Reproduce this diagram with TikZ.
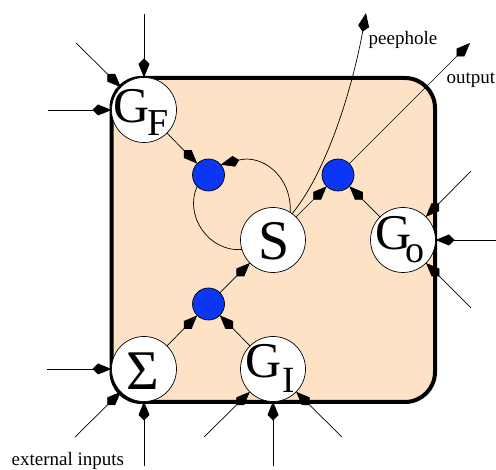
\documentclass[tikz,border=0pt]{standalone}
\usepackage{fontspec}
\setmainfont{Liberation Serif}
\usetikzlibrary{arrows.meta}
\definecolor{cellfill}{HTML}{FDE2C6}
\definecolor{gateblue}{HTML}{0B36F5}
\newcommand{\placed}[4]{\makebox[0pt][l]{\hspace*{#1pt}\smash{\raisebox{-#2pt}{\fontsize{#3}{#3}\selectfont #4}}}}
\newcommand{\nest}[2]{\makebox[0pt][l]{#1}#2}
\tikzset{
  x=1pt,y=-1pt,
  unit/.style={circle,draw=black,fill=white,line width=0.7pt,minimum size=65pt,inner sep=0pt,outer sep=0pt},
  gate/.style={circle,draw=black,fill=gateblue,line width=0.7pt,minimum size=32pt,inner sep=0pt,outer sep=0pt},
  cell/.style={draw=black,fill=cellfill,line width=4pt,rounded corners=30pt,minimum width=323.5pt,minimum height=324pt,inner sep=0pt,outer sep=0pt},
  arr/.style={line width=0.7pt,-{Kite[length=19pt,width=11pt,inset=5.5pt]}},
  lab/.style={font=\fontsize{19}{19}\selectfont,inner sep=0pt,anchor=base west}
}
\begin{document}
\begin{tikzpicture}
\useasboundingbox (0,0) rectangle (496,470);
\node[cell] (cell) at (273.25,240) {};
\node[unit] (gf) at (144,110) {\nest{\placed{-30.5}{13}{50}{G}}{\placed{3}{26}{38}{F}}};
\node[unit] (s) at (273,240) {\placed{-15}{20}{56}{S}};
\node[unit] (go) at (403,240) {\nest{\placed{-27.5}{10}{50}{G}}{\placed{2}{23}{38}{o}}};
\node[unit] (sigma) at (144,369) {\placed{-18}{21}{56}{Σ}};
\node[unit] (gi) at (273,369) {\nest{\placed{-27.5}{9}{50}{G}}{\placed{9}{24}{37}{I}}};
\node[gate] (b1) at (208.5,175) {};
\node[gate] (b2) at (338,175) {};
\node[gate] (b3) at (208.5,304) {};
\coordinate (gf1) at (76,43);
\coordinate (gf2) at (144,14);
\coordinate (gf3) at (48,110);
\coordinate (si1) at (47,369);
\coordinate (si2) at (75,437);
\coordinate (si3) at (144,466);
\coordinate (gi1) at (204,437);
\coordinate (gi2) at (273,466);
\coordinate (gi3) at (342,437);
\coordinate (go1) at (471,171);
\coordinate (go2) at (496,240);
\coordinate (go3) at (471,308);
\coordinate (out) at (470,43);
\coordinate (peep) at (366,13);
\foreach \a/\b in {gf1/gf,gf2/gf,gf3/gf,si1/sigma,si2/sigma,si3/sigma,gi1/gi,gi2/gi,gi3/gi,go1/go,go2/go,go3/go,gf/b1,s/b2,go/b2,sigma/b3,gi/b3,b3/s,b2/out}
  \draw[arr] (\a) -- (\b);
\draw[arr] (s.54) .. controls (328,170) and (353,85) .. (peep);
\draw[arr] (s.58) .. controls (292,176) and (262,154) .. (b1.40);
\draw[arr,-] (s.197) .. controls (208,252) and (184,215) .. (b1.225);
\node[lab] (peeplab) at (368.5,45) {peephole};
\node[lab] (outlab) at (446.5,84) {output};
\node[lab] (extlab) at (11.5,465.5) {external inputs};
\end{tikzpicture}
\end{document}
